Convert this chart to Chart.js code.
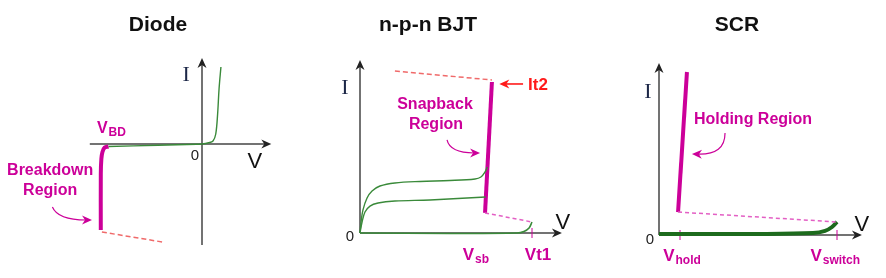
<!DOCTYPE html>
<html>
<head>
<meta charset="utf-8">
<script src="https://cdn.jsdelivr.net/npm/chart.js@4.4.1/dist/chart.umd.min.js"></script>
<style>
  html, body { margin: 0; padding: 0; background: #fff; }
  #wrap { position: relative; width: 886px; height: 278px; overflow: hidden; }
  #wrap canvas { position: absolute; top: 0; }
</style>
</head>
<body>
<div id="wrap">
  <canvas id="diode" width="296" height="278" style="left:0px"></canvas>
  <canvas id="bjt" width="296" height="278" style="left:300px"></canvas>
  <canvas id="scr" width="286" height="278" style="left:600px"></canvas>
</div>
<script>
// ---- Data: [V, I] points in each panel's own units ----

// Diode
const diodeForward   = [[-8.5,-0.25],[-4,-0.12],[-0.5,-0.02],[0,0],[0.6,0.12],[1.0,0.3],[1.25,1.0],[1.42,3],[1.55,5.5],[1.72,7.7]];
const diodeBreakdown = [[-8.5,-0.25],[-8.85,-0.35],[-9.05,-0.8],[-9.15,-1.5],[-9.2,-3],[-9.2,-8.6]];
const diodeLimit     = [[-9.1,-8.8],[-3.6,-9.8]];
const diodeVBD = -9.2;

// n-p-n BJT
const bjtHigh     = [[0,0],[0.06,0.72],[0.17,1.5],[0.41,2.29],[0.7,2.75],[1.16,3.07],[2.03,3.27],[3.49,3.37],[5.23,3.43],[6.69,3.53],[7.03,3.66],[7.27,3.99],[7.4,4.31]];
const bjtMid      = [[0,0],[0.12,0.72],[0.29,1.37],[0.58,1.76],[1.05,1.96],[2.03,2.09],[4.07,2.16],[7.3,2.35]];
const bjtOff      = [[0,0],[5.23,-0.03],[9.13,0],[9.53,0.1],[9.83,0.33],[10,0.72]];
const bjtSnapback = [[7.27,1.31],[7.67,9.87]];
const bjtIt2Limit = [[2.03,10.59],[7.67,10.0]];
const bjtReturn   = [[7.27,1.31],[10,0.72]];
const bjtVsb = 7.27, bjtVt1 = 10, bjtIt2 = 9.74;

// SCR
const scrOff     = [[0,0.06],[5.67,0.06],[8.65,0.12],[9.33,0.25],[9.72,0.49],[10,0.8]];
const scrHolding = [[1.07,1.41],[1.57,10.0]];
const scrReturn  = [[1.07,1.41],[10,0.8]];
const scrVhold = 1.18, scrVswitch = 10;

// ---- Styles ----
const MAGENTA = "#cc0099";
const GREEN = "#3a8a3a";
const DARKGREEN = "#1d6b1d";
const SALMON = "#f06a6a";
const PINKDASH = "#e35fc4";
const RED = "#ff1a1a";
const AXIS = "#444";
const SANS = "'Liberation Sans', Arial, sans-serif";
const SERIF = "'Liberation Serif', 'Times New Roman', serif";

const xy = pts => pts.map(([x, y]) => ({ x, y }));
function line(pts, color, width, opts = {}) {
  return Object.assign({
    data: xy(pts), showLine: true, borderColor: color, borderWidth: width,
    pointRadius: 0, tension: 0, fill: false, borderCapStyle: "butt"
  }, opts);
}

// arrow head at (x,y) pointing along angle a
function head(ctx, x, y, a, len, half, color) {
  ctx.save();
  ctx.translate(x, y); ctx.rotate(a);
  ctx.fillStyle = color;
  ctx.beginPath();
  ctx.moveTo(0, 0); ctx.lineTo(-len, -half); ctx.lineTo(-len * 0.7, 0); ctx.lineTo(-len, half);
  ctx.closePath(); ctx.fill();
  ctx.restore();
}

function text(ctx, t) {
  ctx.save();
  ctx.fillStyle = t.color || "#111";
  ctx.textBaseline = t.baseline || "alphabetic";
  const mainFont = (t.bold ? "bold " : "") + t.size + "px " + (t.family || SANS);
  ctx.font = mainFont;
  let w = ctx.measureText(t.text).width, sw = 0;
  const subFont = (t.bold ? "bold " : "") + (t.subSize || 12) + "px " + SANS;
  if (t.sub) { ctx.font = subFont; sw = ctx.measureText(t.sub).width + 1; }
  let x = t.x;
  if (t.align === "center") x -= (w + sw) / 2;
  else if (t.align === "right") x -= (w + sw);
  ctx.textAlign = "left";
  ctx.font = mainFont;
  ctx.fillText(t.text, x, t.y);
  if (t.sub) { ctx.font = subFont; ctx.fillText(t.sub, x + w + 1, t.y + 3); }
  ctx.restore();
}

function panelPlugin(p) {
  return {
    id: "panel_" + p.id,
    beforeDatasetsDraw(chart) {
      const { ctx } = chart;
      const X = v => chart.scales.x.getPixelForValue(v);
      const Y = v => chart.scales.y.getPixelForValue(v);
      ctx.save();
      ctx.strokeStyle = AXIS; ctx.lineWidth = 1.5;
      // V axis
      ctx.beginPath(); ctx.moveTo(X(p.vAxis[0]), Y(0)); ctx.lineTo(X(p.vAxis[1]) - 4, Y(0)); ctx.stroke();
      head(ctx, X(p.vAxis[1]), Y(0), 0, 10, 4.5, "#222");
      // I axis
      ctx.beginPath(); ctx.moveTo(X(0), Y(p.iAxis[0])); ctx.lineTo(X(0), Y(p.iAxis[1]) + 4); ctx.stroke();
      head(ctx, X(0), Y(p.iAxis[1]), -Math.PI / 2, 10, 4.5, "#222");
      // value ticks
      ctx.strokeStyle = MAGENTA; ctx.lineWidth = 1;
      (p.ticks || []).forEach(v => {
        ctx.beginPath(); ctx.moveTo(X(v), Y(0) - 5); ctx.lineTo(X(v), Y(0) + 5); ctx.stroke();
      });
      ctx.restore();
    },
    afterDatasetsDraw(chart) {
      const { ctx } = chart;
      const X = v => chart.scales.x.getPixelForValue(v);
      const Y = v => chart.scales.y.getPixelForValue(v);
      // title
      text(ctx, { text: p.title, x: p.titleX, y: 25, size: 21, bold: true, align: "center", baseline: "middle", color: "#111" });
      // labels in data coordinates
      p.labels.forEach(l => text(ctx, Object.assign({}, l, { x: X(l.x), y: Y(l.y) })));
      // call-out arrows (quadratic curve, arrow head at the end)
      (p.callouts || []).forEach(c => {
        ctx.save();
        ctx.strokeStyle = c.color; ctx.lineWidth = c.width || 1.2;
        const [sx, sy] = [X(c.from[0]), Y(c.from[1])];
        const [cx, cy] = [X(c.ctrl[0]), Y(c.ctrl[1])];
        const [ex, ey] = [X(c.to[0]), Y(c.to[1])];
        const a = Math.atan2(ey - cy, ex - cx);
        ctx.beginPath(); ctx.moveTo(sx, sy);
        ctx.quadraticCurveTo(cx, cy, ex - 6 * Math.cos(a), ey - 6 * Math.sin(a));
        ctx.stroke();
        head(ctx, ex, ey, a, 10, 4.5, c.color);
        ctx.restore();
      });
    }
  };
}

function makePanel(p) {
  return new Chart(document.getElementById(p.id), {
    type: "scatter",
    data: { datasets: p.datasets },
    options: {
      responsive: false, animation: false, devicePixelRatio: 1, events: [],
      layout: { padding: 0 },
      plugins: { legend: { display: false }, tooltip: { enabled: false }, title: { display: false } },
      scales: {
        x: { type: "linear", display: false, min: p.xRange[0], max: p.xRange[1] },
        y: { type: "linear", display: false, min: p.yRange[0], max: p.yRange[1] }
      }
    },
    plugins: [panelPlugin(p)]
  });
}

const dashRed = { borderDash: [5, 3] };
const dashPink = { borderDash: [4, 3] };

makePanel({
  id: "diode", title: "Diode", titleX: 158,
  xRange: [-202 / 11, 94 / 11], yRange: [-13.4, 14.4],
  vAxis: [-10.2, 6.3], iAxis: [-10.1, 8.6],
  datasets: [
    line(diodeLimit, SALMON, 1.5, dashRed),
    line(diodeForward, GREEN, 1.4, { tension: 0.35 }),
    line(diodeBreakdown, MAGENTA, 4, { tension: 0.35 })
  ],
  labels: [
    { text: "I", x: -1.45, y: 6.9, size: 22, family: SERIF, color: "#1c2747", align: "center", baseline: "middle" },
    { text: "V", x: 4.8, y: -1.8, size: 22, align: "center", baseline: "middle" },
    { text: "0", x: -0.64, y: -1.2, size: 15, align: "center", baseline: "middle", color: "#222" },
    { text: "V", sub: "BD", x: diodeVBD - 0.35, y: 1.1, size: 16, subSize: 12, bold: true, color: MAGENTA },
    { text: "Breakdown", x: -13.8, y: -2.7, size: 16, bold: true, color: MAGENTA, align: "center", baseline: "middle" },
    { text: "Region", x: -13.8, y: -4.7, size: 16, bold: true, color: MAGENTA, align: "center", baseline: "middle" }
  ],
  callouts: [{ from: [-13.6, -6.3], ctrl: [-13.1, -7.6], to: [-10.0, -7.6], color: MAGENTA }]
});

makePanel({
  id: "bjt", title: "n-p-n BJT", titleX: 128,
  xRange: [-60 / 17.2, 236 / 17.2], yRange: [-45 / 15.3, 233 / 15.3],
  vAxis: [0, 11.74], iAxis: [0, 11.3], ticks: [bjtVt1],
  datasets: [
    line(bjtIt2Limit, SALMON, 1.5, dashRed),
    line(bjtReturn, PINKDASH, 1.5, dashPink),
    line(bjtOff, GREEN, 1.6, { tension: 0.35 }),
    line(bjtMid, GREEN, 1.4, { tension: 0.35 }),
    line(bjtHigh, GREEN, 1.4, { tension: 0.35 }),
    line(bjtSnapback, MAGENTA, 4)
  ],
  labels: [
    { text: "I", x: -0.87, y: 9.48, size: 22, family: SERIF, color: "#1c2747", align: "center", baseline: "middle" },
    { text: "V", x: 11.8, y: 0.65, size: 22, align: "center", baseline: "middle" },
    { text: "0", x: -0.58, y: -0.26, size: 15, align: "center", baseline: "middle", color: "#222" },
    { text: "It2", x: 9.77, y: bjtIt2 - 0.07, size: 17, bold: true, color: RED, baseline: "middle" },
    { text: "Snapback", x: 4.36, y: 8.37, size: 16, bold: true, color: MAGENTA, align: "center", baseline: "middle" },
    { text: "Region", x: 4.42, y: 7.06, size: 16, bold: true, color: MAGENTA, align: "center", baseline: "middle" },
    { text: "V", sub: "sb", x: bjtVsb - 0.53, y: -1.76, size: 17, subSize: 12, bold: true, color: MAGENTA, align: "center" },
    { text: "Vt1", x: bjtVt1 + 0.35, y: -1.76, size: 17, bold: true, color: MAGENTA, align: "center" }
  ],
  callouts: [
    { from: [5.06, 6.08], ctrl: [5.23, 5.23], to: [6.98, 5.23], color: MAGENTA },
    { from: [9.48, bjtIt2], ctrl: [8.8, bjtIt2], to: [8.1, bjtIt2], color: RED, width: 1.6 }
  ]
});

makePanel({
  id: "scr", title: "SCR", titleX: 137,
  xRange: [-59 / 17.8, 227 / 17.8], yRange: [-43 / 16.3, 235 / 16.3],
  vAxis: [0, 11.4], iAxis: [0, 10.55], ticks: [scrVhold, scrVswitch],
  datasets: [
    line(scrReturn, PINKDASH, 1.5, dashPink),
    line(scrOff, DARKGREEN, 4, { tension: 0.35 }),
    line(scrHolding, MAGENTA, 4)
  ],
  labels: [
    { text: "I", x: -0.62, y: 8.77, size: 22, family: SERIF, color: "#1c2747", align: "center", baseline: "middle" },
    { text: "V", x: 11.4, y: 0.61, size: 22, align: "center", baseline: "middle" },
    { text: "0", x: -0.51, y: -0.31, size: 15, align: "center", baseline: "middle", color: "#222" },
    { text: "Holding Region", x: 5.28, y: 7.06, size: 16, bold: true, color: MAGENTA, align: "center", baseline: "middle" },
    { text: "V", sub: "hold", x: scrVhold + 0.11, y: -1.6, size: 17, subSize: 12, bold: true, color: MAGENTA, align: "center" },
    { text: "V", sub: "switch", x: scrVswitch - 0.1, y: -1.6, size: 17, subSize: 12, bold: true, color: MAGENTA, align: "center" }
  ],
  callouts: [
    { from: [3.71, 6.26], ctrl: [3.71, 4.91], to: [1.85, 4.97], color: MAGENTA }
  ]
});
</script>
</body>
</html>
